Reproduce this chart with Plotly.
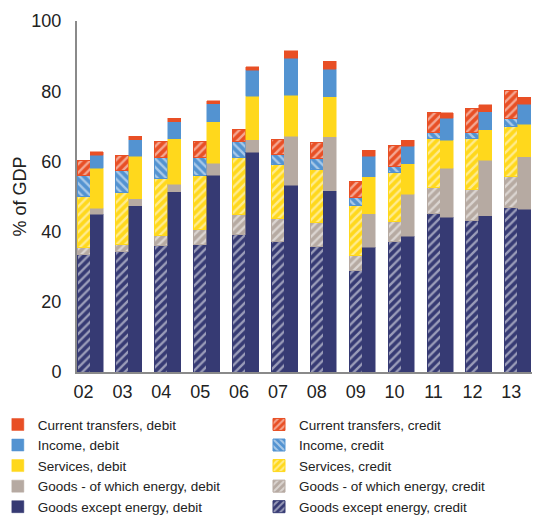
import plotly.graph_objects as go

years = ["02", "03", "04", "05", "06", "07", "08", "09", "10", "11", "12", "13"]

# Credit (exports) components, % of GDP
goods_ex_credit = [33.5, 34.3, 36.0, 36.4, 39.2, 37.1, 35.7, 29.0, 37.1, 45.1, 43.1, 47.0]
energy_credit = [1.9, 1.9, 2.9, 4.1, 5.8, 6.6, 6.9, 4.1, 5.7, 7.4, 8.8, 8.6]
services_credit = [14.5, 14.9, 16.3, 15.4, 16.1, 15.5, 15.2, 14.3, 14.1, 14.0, 14.6, 14.3]
income_credit = [6.2, 6.4, 6.0, 5.3, 4.7, 2.8, 2.9, 2.3, 1.6, 1.6, 1.7, 2.2]
transfers_credit = [4.2, 4.3, 4.6, 4.4, 3.4, 4.2, 4.7, 4.7, 6.0, 5.9, 6.9, 8.0]

# Debit (imports) components, % of GDP
goods_ex_debit = [44.9, 47.4, 51.3, 56.0, 62.6, 53.2, 51.6, 35.5, 38.7, 44.1, 44.5, 46.4]
energy_debit = [1.7, 2.0, 2.2, 3.5, 3.6, 14.0, 15.4, 9.6, 11.9, 13.9, 15.9, 14.9]
services_debit = [11.5, 12.0, 12.9, 11.8, 12.4, 11.7, 11.4, 10.5, 8.8, 8.0, 8.6, 9.3]
income_debit = [3.7, 4.8, 4.9, 5.1, 7.4, 10.5, 7.9, 5.8, 4.9, 6.3, 5.1, 5.7]
transfers_debit = [0.9, 1.0, 1.0, 0.9, 0.9, 2.1, 2.3, 1.8, 1.7, 1.6, 2.0, 2.0]

y_ticks = [0, 20, 40, 60, 80, 100]

NAVY = "#363A73"
ENERGY = "#B6AAA2"
SERV = "#FFD81C"
INC = "#5393D1"
TRANS = "#E84F25"

BW = 0.335
idx = list(range(len(years)))
x_credit = [i - BW / 2 for i in idx]
x_debit = [i + BW / 2 for i in idx]

fig = go.Figure()

credit_series = [
    ("Goods except energy, credit", goods_ex_credit, NAVY, "/", 5),
    ("Goods - of which energy, credit", energy_credit, ENERGY, "/", 4),
    ("Services, credit", services_credit, SERV, "/", 3),
    ("Income, credit", income_credit, INC, "\\", 2),
    ("Current transfers, credit", transfers_credit, TRANS, "/", 1),
]
debit_series = [
    ("Goods except energy, debit", goods_ex_debit, NAVY, 5),
    ("Goods - of which energy, debit", energy_debit, ENERGY, 4),
    ("Services, debit", services_debit, SERV, 3),
    ("Income, debit", income_debit, INC, 2),
    ("Current transfers, debit", transfers_debit, TRANS, 1),
]

for name, vals, col, shape, rank in credit_series:
    fig.add_trace(go.Bar(
        x=x_credit, y=vals, width=BW, name=name, legendrank=rank,
        legend="legend2",
        marker=dict(
            color=col,
            line=dict(color=col, width=1),
            pattern=dict(shape=shape, fgcolor="white", bgcolor=col,
                         size=6, solidity=0.4, fillmode="overlay"),
        ),
    ))

for name, vals, col, rank in debit_series:
    fig.add_trace(go.Bar(
        x=x_debit, y=vals, width=BW, name=name, legendrank=rank,
        legend="legend",
        marker=dict(color=col, line=dict(color=col, width=0.5)),
    ))

legend_common = dict(
    orientation="v",
    yanchor="top",
    y=-0.106,
    font=dict(size=13.5, color="#222222"),
    itemwidth=30,
    traceorder="normal",
    bgcolor="rgba(0,0,0,0)",
    borderwidth=0,
)

fig.update_layout(
    width=541, height=517,
    barmode="stack",
    plot_bgcolor="white", paper_bgcolor="white",
    margin=dict(l=77, r=9, t=21, b=145, autoexpand=False),
    font=dict(family="Liberation Sans, Arial, sans-serif", size=18, color="#222222"),
    showlegend=True,
    legend=dict(x=-0.174, xanchor="left", **legend_common),
    legend2=dict(x=0.40, xanchor="left", **legend_common),
    xaxis=dict(
        range=[-BW, 11 + BW + 0.03],
        tickmode="array",
        tickvals=x_credit,
        ticktext=years,
        showgrid=False, zeroline=False,
        showline=True, linecolor="#8A8A8A", linewidth=2,
        ticks="", ticklabelstandoff=2,
        tickfont=dict(size=18),
    ),
    yaxis=dict(
        range=[0, 100],
        tickmode="array",
        tickvals=y_ticks,
        ticktext=[str(v) for v in y_ticks],
        showgrid=False, zeroline=False,
        showline=True, linecolor="#8A8A8A", linewidth=2,
        ticks="", ticklabelstandoff=10,
        tickfont=dict(size=18),
        title=dict(text="% of GDP", font=dict(size=18), standoff=0),
    ),
)

fig.write_html(
    "out.html",
    config={"displayModeBar": False},
    post_script="document.body.style.margin='0px';document.body.style.overflow='hidden';",
)
